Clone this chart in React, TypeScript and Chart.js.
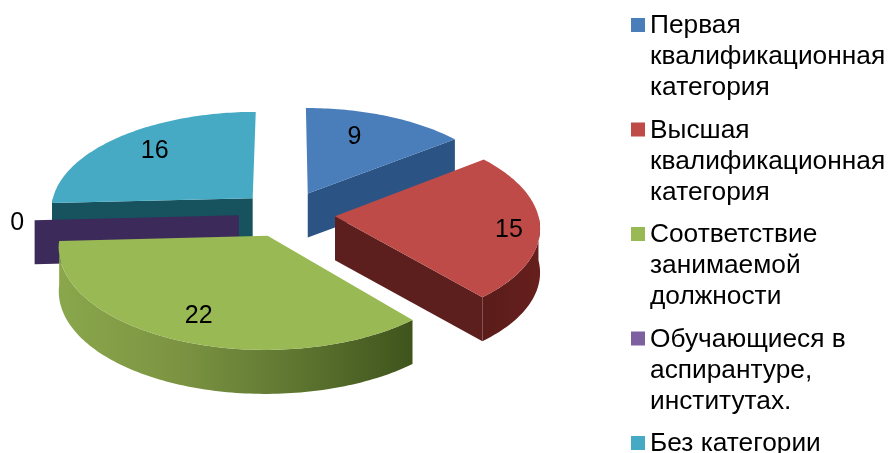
import React, { useEffect, useRef } from "react";
import { Chart, registerables } from "chart.js";

Chart.register(...registerables);

const categories = [
  "Первая квалификационная категория",
  "Высшая квалификационная категория",
  "Соответствие занимаемой должности",
  "Обучающиеся в аспирантуре, институтах.",
  "Без категории",
];
const values = [9, 15, 22, 0, 16];
const legendLines = [
  ["Первая", "квалификационная", "категория"],
  ["Высшая", "квалификационная", "категория"],
  ["Соответствие", "занимаемой", "должности"],
  ["Обучающиеся в", "аспирантуре,", "институтах."],
  ["Без категории"],
];
const topColors = ["#4a7ebb", "#be4b48", "#98b954", "#7d60a0", "#46aac5"];
const wallColors = ["#2b5485", "#5c1f1d", "#6a8238", "#3b2a5a", "#17525f"];
const rimStops: string[][] = [
  ["#2b5485", "#2b5485"],
  ["#5a1c1a", "#661f1d"],
  ["#8aa74c", "#7c9442", "#5f7631", "#3f541c"],
  ["#3b2a5a", "#3b2a5a"],
  ["#17525f", "#17525f"],
];
// label anchor inside each slice: share of the sweep, share of the radius
const labelSweep = [0.4, 0.52, 0.5, 0.5, 0.53];
const labelRadius = [0.72, 0.85, 0.765, 1.085, 0.763];
const paintOrder = [0, 4, 3, 1, 2];

const FONT = '"Liberation Sans", Arial, sans-serif';
const VIEW = { cx: 287, cy: 214, rx: 203, ry: 98, k: 0.1, depth: 44 };
const LEGEND = { box: 631, size: 14, text: 650, first: 33, pitch: 104.5, line: 31.2, font: 26.3 };
const LABEL_DROP = 3;

type Pt = [number, number];

function projector(el: any) {
  const R = el.outerRadius || 1;
  const mid = (el.startAngle + el.endAngle) / 2;
  const off = (el.options.offset || 0) / R;
  const ox = Math.cos(mid) * off;
  const oy = -Math.sin(mid) * off;
  return (angle: number, r: number, drop = 0): Pt => {
    const u = ox + r * Math.cos(angle);
    const v = oy - r * Math.sin(angle);
    const w = 1 + VIEW.k * v;
    return [VIEW.cx + (VIEW.rx * u) / w, VIEW.cy - (VIEW.ry * v) / w + drop];
  };
}

function trace(ctx: CanvasRenderingContext2D, pts: Pt[]) {
  ctx.beginPath();
  pts.forEach((p, i) => (i ? ctx.lineTo(p[0], p[1]) : ctx.moveTo(p[0], p[1])));
  ctx.closePath();
}

function sweepPoints(p: ReturnType<typeof projector>, a0: number, a1: number, drop = 0) {
  const n = Math.max(1, Math.ceil(Math.abs(a1 - a0) / 0.02));
  const out: Pt[] = [];
  for (let i = 0; i <= n; i++) out.push(p(a0 + ((a1 - a0) * i) / n, 1, drop));
  return out;
}

const pie3d = {
  id: "pie3d",
  beforeDatasetsDraw(chart: any) {
    const ctx: CanvasRenderingContext2D = chart.ctx;
    const arcs = chart.getDatasetMeta(0).data;
    const d = VIEW.depth;
    ctx.save();
    for (const i of paintOrder) {
      const el = arcs[i];
      const p = projector(el);
      const a0 = el.startAngle;
      const a1 = el.endAngle;
      // cut walls that face the viewer
      ctx.fillStyle = wallColors[i];
      if (-Math.cos(a0) > 1e-6) {
        trace(ctx, [p(a0, 0), p(a0, 1), p(a0, 1, d), p(a0, 0, d)]);
        ctx.fill();
      }
      if (Math.cos(a1) > 1e-6) {
        trace(ctx, [p(a1, 0), p(a1, 1), p(a1, 1, d), p(a1, 0, d)]);
        ctx.fill();
      }
      // curved rim, only the part that faces the viewer
      const lo = Math.max(a0, 0);
      const hi = Math.min(a1, Math.PI);
      if (hi > lo) {
        const top = sweepPoints(p, lo, hi);
        const bottom = sweepPoints(p, hi, lo, d);
        const xs = top.map((t) => t[0]);
        const g = ctx.createLinearGradient(Math.max(...xs), 0, Math.min(...xs), 0);
        const stops = rimStops[i];
        stops.forEach((c, s) => g.addColorStop(1 - s / (stops.length - 1), c));
        ctx.fillStyle = g;
        trace(ctx, top.concat(bottom));
        ctx.fill();
      }
      // top face
      ctx.fillStyle = topColors[i];
      trace(ctx, [p(a0, 0), ...sweepPoints(p, a0, a1)]);
      ctx.fill();
    }
    ctx.restore();
    return false;
  },
  afterDraw(chart: any) {
    const ctx: CanvasRenderingContext2D = chart.ctx;
    const arcs = chart.getDatasetMeta(0).data;
    ctx.save();
    ctx.fillStyle = "#000";
    ctx.font = `25px ${FONT}`;
    ctx.textAlign = "center";
    ctx.textBaseline = "middle";
    arcs.forEach((el: any, i: number) => {
      const a = el.startAngle + (el.endAngle - el.startAngle) * labelSweep[i];
      const [x, y] = projector(el)(a, labelRadius[i], LABEL_DROP);
      ctx.fillText(String(values[i]), x, y);
    });
    ctx.textAlign = "left";
    ctx.textBaseline = "alphabetic";
    ctx.font = `${LEGEND.font}px ${FONT}`;
    legendLines.forEach((lines, i) => {
      const base = LEGEND.first + i * LEGEND.pitch;
      ctx.fillStyle = topColors[i];
      ctx.fillRect(LEGEND.box, base - 15, LEGEND.size, LEGEND.size);
      ctx.fillStyle = "#000";
      lines.forEach((t, j) => ctx.fillText(t, LEGEND.text, base + j * LEGEND.line));
    });
    ctx.restore();
  },
};

export default function App() {
  const ref = useRef<HTMLCanvasElement>(null);
  useEffect(() => {
    const chart = new Chart(ref.current as HTMLCanvasElement, {
      type: "pie",
      data: {
        labels: categories,
        datasets: [{ data: values, backgroundColor: topColors, borderWidth: 0, offset: 48 }],
      },
      options: {
        animation: false,
        responsive: false,
        plugins: { legend: { display: false }, tooltip: { enabled: false } },
      },
      plugins: [pie3d],
    } as any);
    return () => chart.destroy();
  }, []);
  return (
    <div style={{ position: "absolute", left: 0, top: 0, width: 889, height: 453, background: "#fff" }}>
      <canvas ref={ref} width={889} height={453} style={{ display: "block" }} />
    </div>
  );
}
